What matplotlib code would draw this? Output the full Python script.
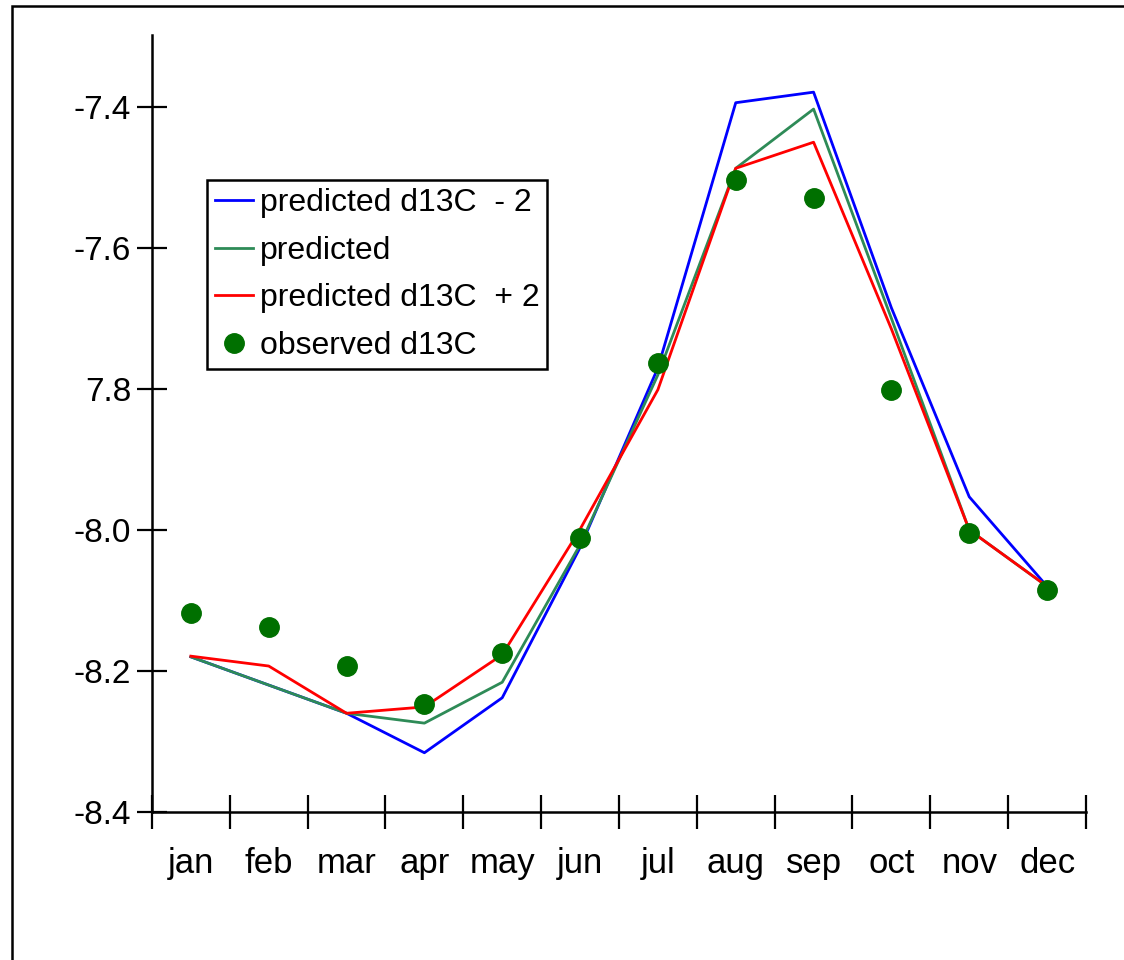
import matplotlib.pyplot as plt
from matplotlib.patches import Rectangle

months = ['jan', 'feb', 'mar', 'apr', 'may', 'jun', 'jul', 'aug', 'sep', 'oct', 'nov', 'dec']
pred_minus2 = [-8.18, -8.22, -8.26, -8.316, -8.238, -8.025, -7.77, -7.394, -7.379, -7.685, -7.953, -8.08]
pred = [-8.18, -8.22, -8.26, -8.274, -8.216, -8.021, -7.78, -7.487, -7.403, -7.70, -8.00, -8.08]
pred_plus2 = [-8.179, -8.193, -8.26, -8.251, -8.177, -7.999, -7.801, -7.487, -7.450, -7.715, -8.00, -8.08]
observed = [-8.118, -8.138, -8.193, -8.247, -8.174, -8.011, -7.763, -7.504, -7.529, -7.801, -8.004, -8.085]
ytick_vals = [-8.4, -8.2, -8.0, -7.8, -7.6, -7.4]
ytick_text = ['-8.4', '-8.2', '-8.0', '7.8', '-7.6', '-7.4']

plt.rcParams['font.family'] = ['Liberation Sans', 'DejaVu Sans']

fig = plt.figure(figsize=(11.24, 9.6), dpi=100)
ax = fig.add_axes([0.1352, 0.1542, 0.8310, 0.8093])

x = [i + 0.5 for i in range(len(months))]
ax.plot(x, pred_minus2, color='#0000ff', lw=2, label='predicted d13C  - 2')
ax.plot(x, pred, color='#2e8b57', lw=2, label='predicted')
ax.plot(x, pred_plus2, color='#ff0000', lw=2, label='predicted d13C  + 2')
ax.plot(x, observed, 'o', color='#007000', ms=14, label='observed d13C')

ax.set_xlim(0, 12)
ax.set_ylim(-8.4, -7.298)
ax.set_xticks(range(13))
ax.set_xticklabels([])
ax.set_xticks(x, minor=True)
ax.set_xticklabels(months, minor=True, fontsize=25)
ax.tick_params(axis='x', which='minor', length=0, pad=25)
ax.tick_params(axis='x', which='major', direction='inout', length=25, width=1.6)
ax.set_yticks(ytick_vals)
ax.set_yticklabels(ytick_text, fontsize=24)
ax.tick_params(axis='y', direction='inout', length=22, width=1.6, pad=4)

for s in ['top', 'right']:
    ax.spines[s].set_visible(False)
for s in ['left', 'bottom']:
    ax.spines[s].set_linewidth(1.8)

leg = ax.legend(loc='upper left', bbox_to_anchor=(0.0589, 0.813), borderaxespad=0,
                fontsize=23, fancybox=False, edgecolor='black', framealpha=1,
                handlelength=1.2, handletextpad=0.2, labelspacing=0.55,
                borderpad=0.25, numpoints=1)
leg.get_frame().set_linewidth(1.8)

# outer frame around the picture, cut off at right and bottom
fig.patches.append(Rectangle((12 / 1124, -0.05), 1.2, 1 - 6 / 960 + 0.05,
                             transform=fig.transFigure, fill=False,
                             edgecolor='black', lw=1.8))

fig.savefig('out.png', dpi=100)
